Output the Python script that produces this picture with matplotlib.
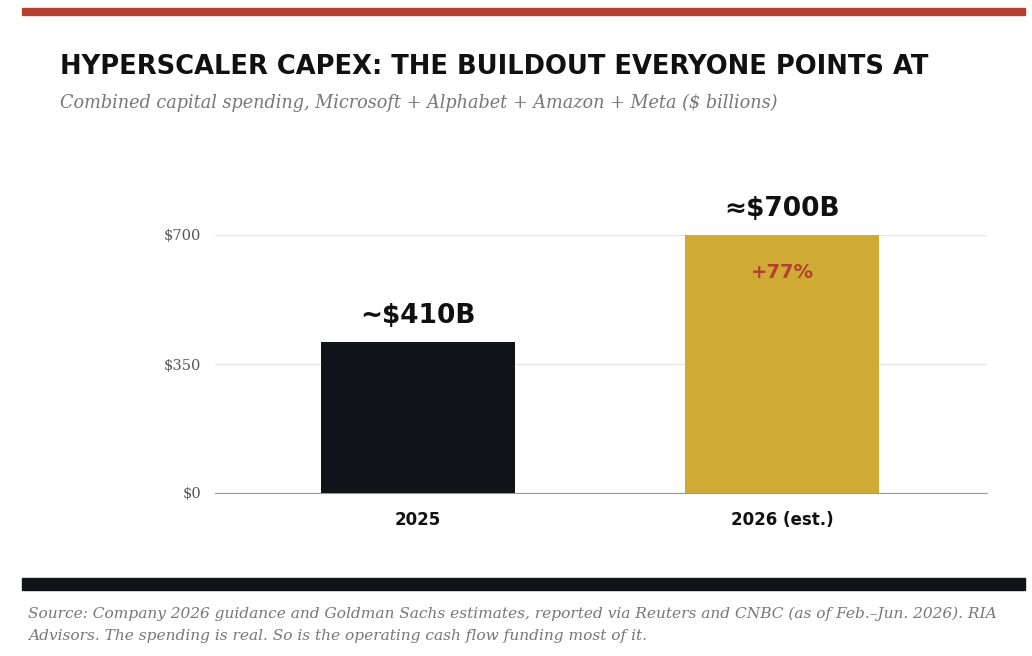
import matplotlib
matplotlib.use("Agg")
import matplotlib.pyplot as plt
from matplotlib.patches import Rectangle

categories = ["2025", "2026 (est.)"]
values = [410, 700]
value_labels = ["~$410B", "≈$700B"]
growth_label = "+77%"
bar_colors = ["#111318", "#cfab36"]
yticks = [0, 350, 700]
ytick_labels = ["$0", "$350", "$700"]

W, H = 1032, 656
fig = plt.figure(figsize=(W/100, H/100), dpi=100)
fig.patch.set_facecolor("white")

def fx(x): return x / W
def fy(y): return 1 - y / H

fig.add_artist(Rectangle((fx(22), fy(15)), fx(1003), 7/H, color="#b5402f", transform=fig.transFigure))
fig.add_artist(Rectangle((fx(22), fy(590)), fx(1003), 12/H, color="#111318", transform=fig.transFigure))

fig.text(fx(60), fy(67), "HYPERSCALER CAPEX: THE BUILDOUT EVERYONE POINTS AT", fontsize=18.5,
         fontweight="bold", family="DejaVu Sans", va="center", color="#111111")
fig.text(fx(60), fy(103), "Combined capital spending, Microsoft + Alphabet + Amazon + Meta ($ billions)",
         fontsize=12.7, style="italic", family="DejaVu Serif", va="center", color="#777777")
fig.text(fx(28), fy(614), "Source: Company 2026 guidance and Goldman Sachs estimates, reported via Reuters and CNBC (as of Feb.–Jun. 2026). RIA",
         fontsize=11.1, style="italic", family="DejaVu Serif", va="center", color="#777777")
fig.text(fx(28), fy(636), "Advisors. The spending is real. So is the operating cash flow funding most of it.",
         fontsize=11.1, style="italic", family="DejaVu Serif", va="center", color="#777777")

ax = fig.add_axes([fx(215), fy(493), fx(987) - fx(215), (493 - 235) / H])
x = list(range(len(categories)))
ax.bar(x, values, width=0.533, color=bar_colors, zorder=3)
ax.set_xlim(-0.558, 1.563)
ax.set_ylim(0, 700)
ax.set_yticks(yticks)
ax.set_yticklabels(ytick_labels, family="DejaVu Serif", fontsize=10.5, color="#555555")
ax.set_xticks(x)
ax.set_xticklabels(categories, fontweight="bold", family="DejaVu Sans", fontsize=12, color="#111111")
ax.tick_params(length=0, axis="y", pad=10)
ax.tick_params(length=0, axis="x", pad=13)
for s in ["top", "right", "left"]:
    ax.spines[s].set_visible(False)
ax.spines["bottom"].set_color("#999999")
ax.grid(axis="y", color="#e6e6e6", lw=1, zorder=0)
ax.set_axisbelow(True)

for xi, v, lab in zip(x, values, value_labels):
    ax.annotate(lab, (xi, v), xytext=(0, 9), textcoords="offset points", ha="center", va="bottom",
                fontsize=19, fontweight="bold", family="DejaVu Sans", color="#111111", annotation_clip=False)
ax.text(x[1], 598, growth_label, ha="center", va="center",
        fontsize=14, fontweight="bold", family="DejaVu Sans", color="#b5402f")

fig.savefig("out.png", dpi=100)
